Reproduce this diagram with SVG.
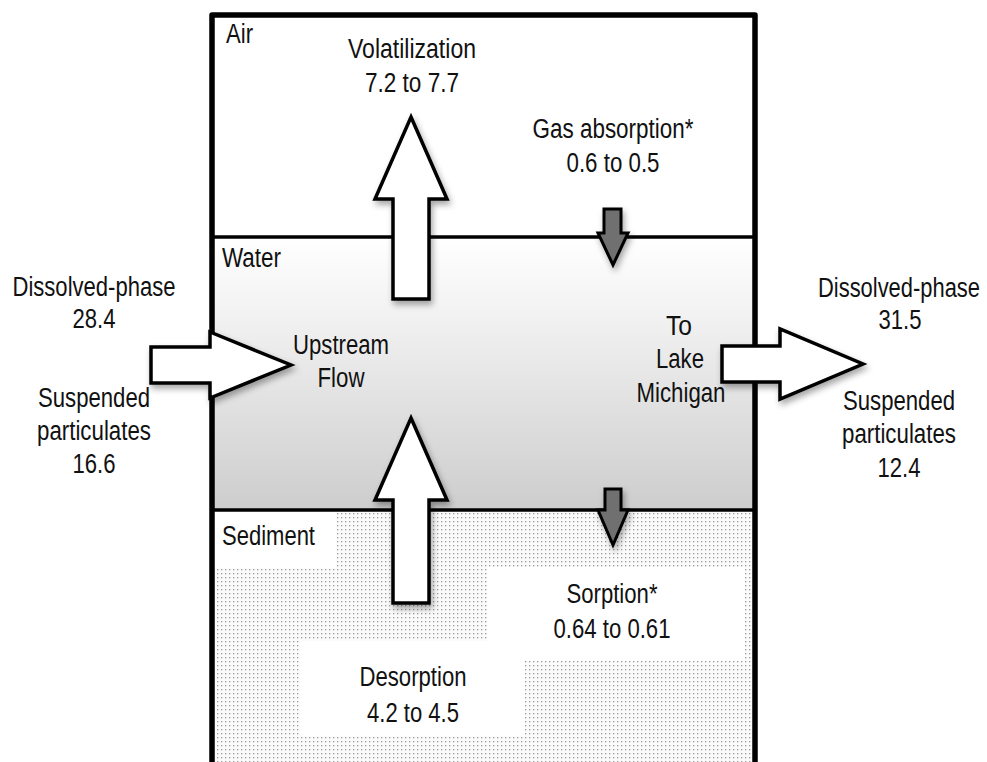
<svg xmlns="http://www.w3.org/2000/svg" width="987" height="762" viewBox="0 0 987 762">
<defs>
<style>
text{font-family:"Liberation Sans",Arial,sans-serif;font-size:27px;fill:#111;}
.c{text-anchor:middle;}
.big{fill:#fff;stroke:#000;stroke-width:3.5;stroke-linejoin:miter;}
.small{fill:#707070;stroke:#000;stroke-width:3;stroke-linejoin:miter;}
.edge{fill:none;stroke:#000;}
</style>
<linearGradient id="waterGrad" x1="0" y1="0" x2="0" y2="1">
<stop offset="0" stop-color="#ffffff"/>
<stop offset="0.3" stop-color="#f1f1f1"/>
<stop offset="1" stop-color="#cdcdcd"/>
</linearGradient>
<pattern id="dots" width="4" height="4" patternUnits="userSpaceOnUse">
<rect width="4" height="4" fill="#fbfbfb"/>
<rect x="1" y="1" width="1.3" height="1.3" fill="#9a9a9a"/>
</pattern>
<filter id="shadow" x="-30%" y="-30%" width="160%" height="160%">
<feDropShadow dx="2" dy="4" stdDeviation="3" flood-color="#000" flood-opacity="0.35"/>
</filter>
</defs>
<rect width="987" height="762" fill="#fff"/>
<g id="compartments">
<rect id="water-region" x="212" y="237" width="543" height="273" fill="url(#waterGrad)"/>
<rect id="sediment-region" x="212" y="510" width="543" height="252" fill="url(#dots)"/>
<rect x="214" y="512" width="122" height="56" fill="#fff"/>
<rect x="487" y="567" width="258" height="94" fill="#fff"/>
<rect x="300" y="641" width="225" height="95" fill="#fff"/>
<line class="edge" x1="212" y1="237" x2="755" y2="237" stroke-width="3.5"/>
<line class="edge" x1="212" y1="510" x2="755" y2="510" stroke-width="3.5"/>
<path class="edge" d="M212,762 V15 H755 V762" stroke-width="5.5" stroke-linejoin="round"/>
<text x="226" y="43" textLength="27" lengthAdjust="spacingAndGlyphs">Air</text>
<text x="222" y="267" textLength="59" lengthAdjust="spacingAndGlyphs">Water</text>
<text x="222" y="545" textLength="93" lengthAdjust="spacingAndGlyphs">Sediment</text>
</g>
<g id="connectors" filter="url(#shadow)">
<polygon id="volatilization-arrow" class="big" points="411,117 447,199 429,199 429,299 393,299 393,199 375,199"/>
<polygon id="desorption-arrow" class="big" points="411,418 447,500 429,500 429,603 393,603 393,500 375,500"/>
<polygon id="upstream-arrow" class="big" points="151,347 210,347 210,332 291,365 210,398 210,383 151,383"/>
<polygon id="outflow-arrow" class="big" points="722,346 780,346 780,329 863,364 780,399 780,382 722,382"/>
<polygon id="gas-absorption-arrow" class="small" points="604,209 621,209 621,233 628,233 613,265 598,233 604,233"/>
<polygon id="sorption-arrow" class="small" points="605,489 621,489 621,510 628,510 613,545 598,510 605,510"/>
</g>
<g id="volatilization">
<text class="c" x="412" y="58" textLength="128" lengthAdjust="spacingAndGlyphs">Volatilization</text>
<text class="c" x="412" y="92" textLength="94" lengthAdjust="spacingAndGlyphs">7.2 to 7.7</text>
</g>
<g id="gas-absorption">
<text class="c" x="613" y="138" textLength="161" lengthAdjust="spacingAndGlyphs">Gas absorption*</text>
<text class="c" x="613" y="172" textLength="93" lengthAdjust="spacingAndGlyphs">0.6 to 0.5</text>
</g>
<g id="upstream-flow">
<text class="c" x="341" y="354" textLength="96" lengthAdjust="spacingAndGlyphs">Upstream</text>
<text class="c" x="341" y="387" textLength="47" lengthAdjust="spacingAndGlyphs">Flow</text>
</g>
<g id="to-lake">
<text class="c" x="679" y="335" textLength="26" lengthAdjust="spacingAndGlyphs">To</text>
<text class="c" x="680" y="368" textLength="48" lengthAdjust="spacingAndGlyphs">Lake</text>
<text class="c" x="681" y="402" textLength="89" lengthAdjust="spacingAndGlyphs">Michigan</text>
</g>
<g id="inflow-labels">
<text class="c" x="94" y="296" textLength="163" lengthAdjust="spacingAndGlyphs">Dissolved-phase</text>
<text class="c" x="94" y="328" textLength="43" lengthAdjust="spacingAndGlyphs">28.4</text>
<text class="c" x="94" y="407" textLength="112" lengthAdjust="spacingAndGlyphs">Suspended</text>
<text class="c" x="94" y="440" textLength="114" lengthAdjust="spacingAndGlyphs">particulates</text>
<text class="c" x="94" y="473" textLength="43" lengthAdjust="spacingAndGlyphs">16.6</text>
</g>
<g id="outflow-labels">
<text class="c" x="899" y="297" textLength="162" lengthAdjust="spacingAndGlyphs">Dissolved-phase</text>
<text class="c" x="900" y="329" textLength="43" lengthAdjust="spacingAndGlyphs">31.5</text>
<text class="c" x="899" y="410" textLength="112" lengthAdjust="spacingAndGlyphs">Suspended</text>
<text class="c" x="899" y="443" textLength="114" lengthAdjust="spacingAndGlyphs">particulates</text>
<text class="c" x="899" y="477" textLength="43" lengthAdjust="spacingAndGlyphs">12.4</text>
</g>
<g id="sorption">
<text class="c" x="612" y="603" textLength="91" lengthAdjust="spacingAndGlyphs">Sorption*</text>
<text class="c" x="612" y="638" textLength="117" lengthAdjust="spacingAndGlyphs">0.64 to 0.61</text>
</g>
<g id="desorption">
<text class="c" x="413" y="686" textLength="107" lengthAdjust="spacingAndGlyphs">Desorption</text>
<text class="c" x="413" y="722" textLength="92" lengthAdjust="spacingAndGlyphs">4.2 to 4.5</text>
</g>
</svg>
